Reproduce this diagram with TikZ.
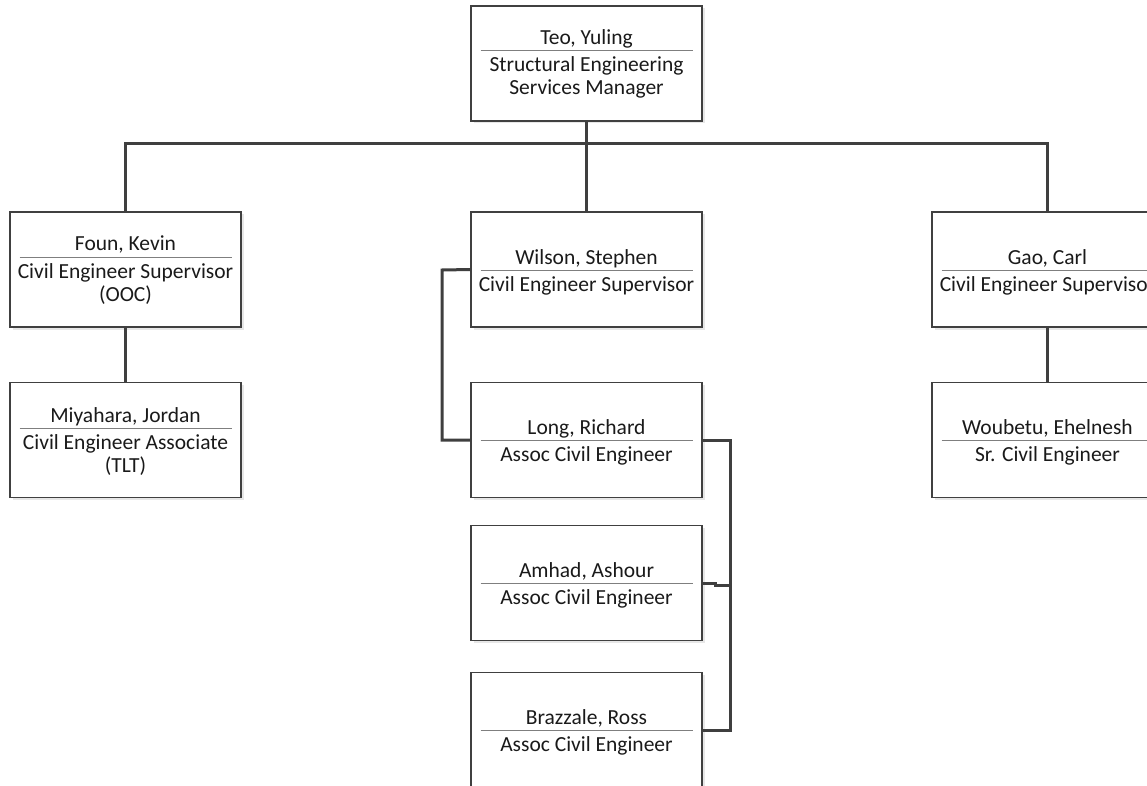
\documentclass[tikz,border=0pt]{standalone}
\usepackage{fontspec}
\setmainfont{Carlito}
\usetikzlibrary{shadows,calc}
\definecolor{boxc}{HTML}{404040}
\definecolor{connc}{HTML}{3F3F3F}
\definecolor{sepc}{HTML}{7F7F7F}
\definecolor{txtc}{HTML}{1A1A1A}
\tikzset{
  box/.style={draw=boxc, line width=1.1pt, fill=white, minimum width=231pt, minimum height=115pt, inner sep=0pt,
    drop shadow={shadow xshift=2.5pt, shadow yshift=-2.5pt, fill=black!30, opacity=0.3}},
  conn/.style={draw=connc, line width=3pt},
  sepline/.style={draw=sepc, line width=1pt},
  txt/.style={font=\fontsize{21.5}{23}\selectfont, text=txtc, inner sep=0pt, anchor=base},
}
\newcommand\orgbox[5]{%
  \node[box] (#1) at (#2,#3) {};
  \draw[sepline] (#2-106,#4) -- (#2+106,#4);
  \node[txt] (#1-name) at (#2,#4-6) {#5};
}
\begin{document}
\begin{tikzpicture}[x=1pt,y=-1pt]
\useasboundingbox (0,0) rectangle (1147,786);
\fill[white] (0,0) rectangle (1147,786);
\clip (0,0) rectangle (1147,786);
% boxes
\orgbox{teo}{586.5}{63.5}{51}{Teo, Yuling}
\node[txt] (teo-t1) at (586.5,51+21) {Structural Engineering};
\node[txt] (teo-t2) at (586.5,51+44) {Services Manager};
\orgbox{foun}{125.5}{269.5}{257}{Foun, Kevin}
\node[txt] (foun-t1) at (125.5,257+21) {Civil Engineer Supervisor};
\node[txt] (foun-t2) at (125.5,257+44) {(OOC)};
\orgbox{wilson}{586.5}{269.5}{270}{Wilson, Stephen}
\node[txt] (wilson-t1) at (586.5,270+21) {Civil Engineer Supervisor};
\orgbox{gao}{1047.5}{269.5}{270}{Gao, Carl}
\node[txt] (gao-t1) at (1047.5,270+21) {Civil Engineer Supervisor};
\orgbox{miya}{125.5}{440}{428}{Miyahara, Jordan}
\node[txt] (miya-t1) at (125.5,428+21) {Civil Engineer Associate};
\node[txt] (miya-t2) at (125.5,428+44) {(TLT)};
\orgbox{long}{586.5}{440}{440}{Long, Richard}
\node[txt] (long-t1) at (586.5,440+21) {Assoc Civil Engineer};
\orgbox{woub}{1047.5}{440}{440}{Woubetu, Ehelnesh}
\node[txt] (woub-t1) at (1047.5,440+21) {Sr. Civil Engineer};
\orgbox{amhad}{586.5}{583}{583}{Amhad, Ashour}
\node[txt] (amhad-t1) at (586.5,583+21) {Assoc Civil Engineer};
\orgbox{braz}{586.5}{730}{730}{Brazzale, Ross}
\node[txt] (braz-t1) at (586.5,730+21) {Assoc Civil Engineer};
% connectors
\coordinate (bus) at (586.5,144);
\coordinate (lbus) at (442,270);
\coordinate (rbus) at (730,440);
\draw[conn] (teo.south) -- (bus);
\draw[conn] (foun.north) -- (foun.north |- bus) -- (gao.north |- bus) -- (gao.north);
\draw[conn] (bus) -- (wilson.north);
\draw[conn] (foun.south) -- (miya.north);
\draw[conn] (gao.south) -- (woub.north);
\draw[conn] (wilson.west) -- (lbus) |- (long.west);
\draw[conn] (long.east) -- (rbus) |- (braz.east);
\draw[conn] (amhad.east) -- ++(13,0) -- ++(0,2) -- (rbus |- 0,585);
\end{tikzpicture}
\end{document}
